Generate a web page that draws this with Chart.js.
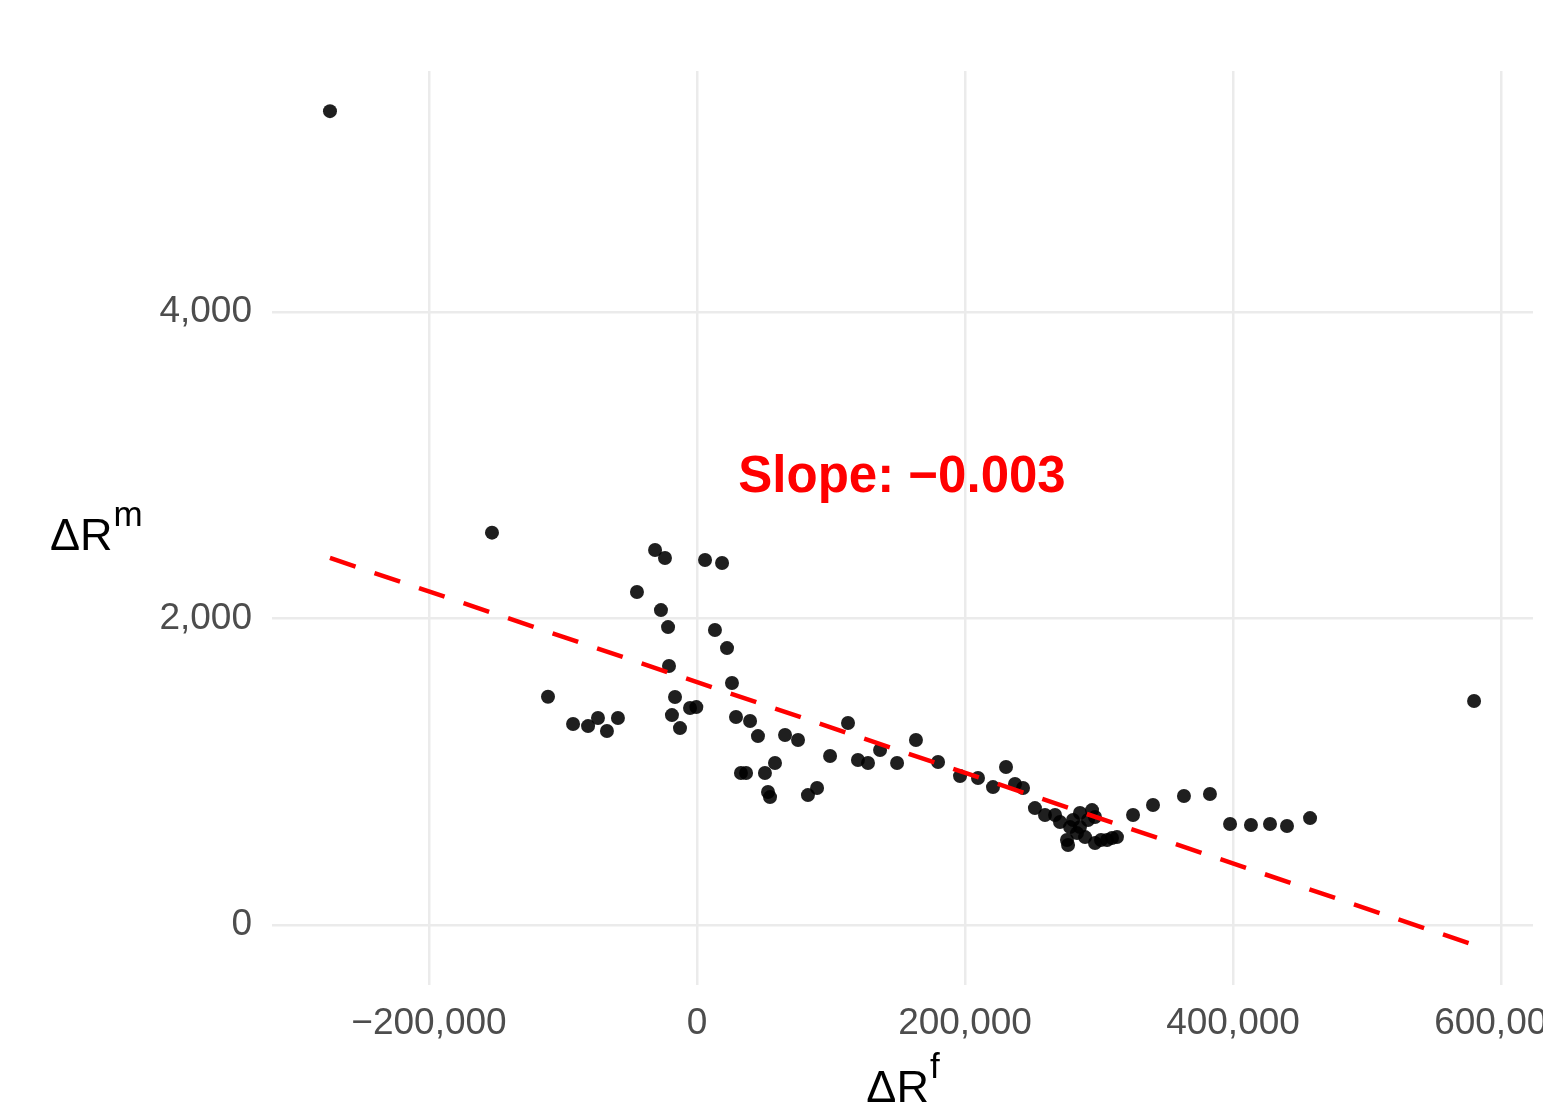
<!DOCTYPE html>
<html>
<head>
<meta charset="utf-8">
<script src="https://cdn.jsdelivr.net/npm/chart.js@4"></script>
<style>
  body { margin: 0; background: #ffffff; }
  #wrap { width: 1543px; height: 1106px; }
</style>
</head>
<body>
<div id="wrap"><canvas id="scatterChart" width="1543" height="1106"></canvas></div>
<script>
// points
var ptsX = [-273900, -153000, -111200, -92500, -81300, -73900, -67200, -59000, -44800, -31300,
    -23900, -26900, -21600, -20900, -16400, -18700, -12700, -5200, -500, 6000,
    18700, 13400, 22400, 26100, 29100, 39600, 45500, 65700, 75400, 32800,
    36600, 50700, 58200, 54500, 53000, 82800, 89600, 99300, 112700, 120100,
    127600, 136600, 149300, 163400, 179900, 196300, 209700, 220900, 230600, 237300,
    243300, 252200, 259700, 267200, 270900, 278400, 285800, 276100, 276900, 289600,
    297000, 306000, 313400, 294800, 297000, 285800, 280600, 291800, 283600, 301500,
    309700, 325400, 340300, 363400, 382800, 397800, 413400, 427600, 440300, 457500,
    579900]
var ptsY = [5310, 2560, 1490, 1312, 1298, 1351, 1266, 1351, 2173, 2447,
    2395, 2055, 1944, 1690, 1488, 1370, 1285, 1416, 1422, 2382,
    2362, 1925, 1807, 1579, 1357, 1331, 1233, 1240, 1207, 992,
    992, 992, 1057, 835, 868, 848, 894, 1103, 1318, 1077,
    1057, 1142, 1057, 1207, 1064, 972, 959, 900, 1031, 920,
    894, 763, 718, 718, 672, 639, 639, 555, 522, 574,
    535, 555, 574, 750, 705, 731, 685, 685, 600, 555,
    568, 718, 783, 842, 855, 659, 653, 659, 646, 698,
    1462]

// dashed fit line end points
var fitX = [-273900, 579900]
var fitY = [2395, -130]

var xTicks = [-200000, 0, 200000, 400000, 600000]
var yTicks = [0, 2000, 4000]

var slopeText = "Slope: \u22120.003"
var slopeX = 153000
var slopeY = 2915

var xTitle = ["\u0394R", "f"]
var yTitle = ["\u0394R", "m"]

function fmt(v){
    return v.toLocaleString("en-US").replace("-", "\u2212")
}

function toPoints(xs, ys){
    var out = []
    for (var i = 0; i < xs.length; i++){
        out.push({x: xs[i], y: ys[i]})
    }
    return out
}

function drawSup(ctx, parts, x, y, align){
    ctx.font = "45px 'Liberation Sans', Arial, sans-serif"
    var wb = ctx.measureText(parts[0]).width
    ctx.font = "35px 'Liberation Sans', Arial, sans-serif"
    var ws = ctx.measureText(parts[1]).width
    var start = align == "center" ? x - (wb + ws) / 2 : x
    ctx.textAlign = "left"
    ctx.textBaseline = "alphabetic"
    ctx.fillStyle = "#000000"
    ctx.font = "45px 'Liberation Sans', Arial, sans-serif"
    ctx.fillText(parts[0], start, y)
    ctx.font = "35px 'Liberation Sans', Arial, sans-serif"
    ctx.fillText(parts[1], start + wb + 1, y - 24)
}

var labelsPlugin = {
    id: "labels",
    afterDraw: function(chart){
        var ctx = chart.ctx
        var area = chart.chartArea
        ctx.save()
        drawSup(ctx, yTitle, 50, 550, "left")
        drawSup(ctx, xTitle, (area.left + area.right) / 2, 1102, "center")

        ctx.font = "bold 51px 'Liberation Sans', Arial, sans-serif"
        ctx.fillStyle = "#ff0000"
        ctx.textAlign = "center"
        ctx.textBaseline = "middle"
        ctx.fillText(slopeText, chart.scales.x.getPixelForValue(slopeX), chart.scales.y.getPixelForValue(slopeY))
        ctx.restore()
    }
}

var ctx = document.getElementById("scatterChart").getContext("2d")
var chart = new Chart(ctx, {
    type: "scatter",
    data: {
        datasets: [{
            type: "line",
            data: toPoints(fitX, fitY),
            borderColor: "#ff0000",
            borderWidth: 4.5,
            borderDash: [27, 20],
            pointRadius: 0,
            fill: false,
            order: 0
        }, {
            data: toPoints(ptsX, ptsY),
            backgroundColor: "rgba(0,0,0,0.88)",
            borderWidth: 0,
            pointRadius: 7,
            order: 1
        }]
    },
    options: {
        responsive: false,
        animation: false,
        layout: { padding: { top: 71, right: 10, bottom: 0, left: 0 } },
        plugins: {
            legend: { display: false },
            tooltip: { enabled: false }
        },
        scales: {
            x: {
                type: "linear",
                min: -317165,
                max: 623880,
                border: { display: false },
                grid: { color: "#ebebeb", lineWidth: 2.5, drawTicks: false },
                ticks: {
                    padding: 17,
                    color: "#4d4d4d",
                    font: { family: "'Liberation Sans', Arial, sans-serif", size: 37 },
                    callback: function(v){ return fmt(v) }
                },
                afterBuildTicks: function(axis){
                    axis.ticks = xTicks.map(function(v){ return {value: v} })
                },
                afterFit: function(axis){
                    axis.height = 121
                    axis.paddingLeft = 0
                    axis.paddingRight = 0
                }
            },
            y: {
                type: "linear",
                min: -391,
                max: 5572,
                border: { display: false },
                grid: { color: "#ebebeb", lineWidth: 2.5, drawTicks: false },
                ticks: {
                    padding: 20,
                    color: "#4d4d4d",
                    font: { family: "'Liberation Sans', Arial, sans-serif", size: 37 },
                    callback: function(v){ return fmt(v) }
                },
                afterBuildTicks: function(axis){
                    axis.ticks = yTicks.map(function(v){ return {value: v} })
                },
                afterFit: function(axis){
                    axis.width = 272
                    axis.paddingTop = 0
                    axis.paddingBottom = 0
                }
            }
        }
    },
    plugins: [labelsPlugin]
})
</script>
</body>
</html>
